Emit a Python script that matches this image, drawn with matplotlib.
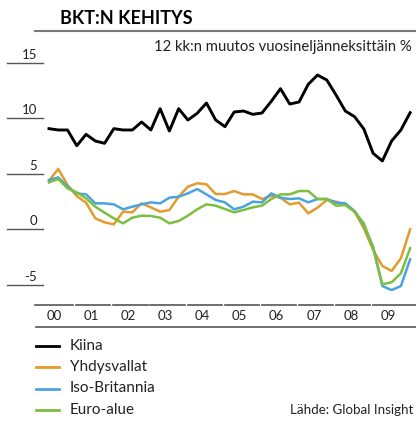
import matplotlib
matplotlib.use('Agg')
import matplotlib.pyplot as plt
import matplotlib.transforms as mtransforms
from matplotlib.lines import Line2D
import numpy as np

# vuosineljanneksittain, 12 kk:n muutos %
vuodet = ['00', '01', '02', '03', '04', '05', '06', '07', '08', '09']

kiina = [9.04, 8.92, 8.92, 7.50, 8.53, 7.93, 7.72, 9.04, 8.92, 8.92,
         9.64, 8.92, 10.84, 8.83, 10.84, 9.82, 10.42, 11.35, 9.82, 9.22,
         10.54, 10.63, 10.33, 10.45, 11.50, 12.64, 11.26, 11.44, 13.04, 13.87,
         13.42, 12.07, 10.63, 10.12, 9.01, 6.82, 6.13, 7.93, 8.92, 10.48]

yhdysvallat = [4.35, 5.41, 3.96, 2.97, 2.37, 0.96, 0.60, 0.42, 1.56, 1.50,
               2.31, 1.95, 1.56, 1.71, 2.91, 3.81, 4.12, 4.03, 3.15, 3.15,
               3.42, 3.12, 3.12, 2.70, 3.00, 2.82, 2.22, 2.37, 1.41, 1.92,
               2.61, 2.46, 2.22, 1.56, 0.06, -1.89, -3.33, -3.78, -2.64, -0.03]

iso_britannia = [4.41, 4.65, 3.81, 3.21, 3.12, 2.31, 2.31, 2.22, 1.77, 2.01,
                 2.22, 2.40, 2.31, 2.82, 2.91, 3.21, 3.60, 3.12, 2.61, 2.40,
                 1.77, 2.01, 2.46, 2.40, 3.21, 2.82, 2.70, 2.76, 2.40, 2.70,
                 2.70, 2.37, 2.31, 1.62, 0.36, -1.59, -5.14, -5.50, -5.14, -2.73]

euro_alue = [4.20, 4.50, 3.66, 3.30, 2.76, 2.01, 1.47, 0.96, 0.51, 1.02,
             1.20, 1.17, 1.02, 0.51, 0.72, 1.20, 1.77, 2.22, 2.10, 1.80,
             1.50, 1.71, 1.95, 2.10, 2.70, 3.12, 3.12, 3.42, 3.42, 2.70,
             2.70, 2.10, 2.16, 1.56, 0.51, -1.74, -4.98, -4.80, -3.99, -1.74]

y_tikit = [15, 10, 5, 0, -5]

sarjat = [
    ('Kiina', kiina, '#000000', 2.1),
    ('Yhdysvallat', yhdysvallat, '#E39B2D', 1.8),
    ('Iso-Britannia', iso_britannia, '#4AA3DF', 1.8),
    ('Euro-alue', euro_alue, '#7CBF3F', 1.8),
]

plt.rcParams['font.family'] = ['Lato', 'DejaVu Sans']

W, H = 416, 429


def fx(px):
    return px / W


def fy(py):
    return 1 - py / H


fig = plt.figure(figsize=(W / 100, H / 100), dpi=100)
ax = fig.add_axes([0, fy(300), 1, (300 - 40) / H])
ax.axis('off')

# kulmakerroin: 1 neljannes = 9.26 px, ensimmainen piste x=49 px
def q_px(px):
    return (px - 49) / 9.26


q = np.arange(len(kiina))
for nimi, arvot, vari, lw in sarjat:
    ax.plot(q, arvot, color=vari, lw=lw, clip_on=False)

ax.set_xlim(q_px(0), q_px(W))
ax.set_ylim((229 - 300) / 11.1, (229 - 40) / 11.1)

# y-akselin viivat ja luvut
trans_y = mtransforms.blended_transform_factory(fig.transFigure, ax.transData)
for v in y_tikit:
    ax.plot([fx(7), fx(43)], [v, v], transform=trans_y, color='#555555', lw=1.0, clip_on=False)
    ax.text(fx(37), v + 0.32, str(v), transform=trans_y, ha='right', va='baseline',
            fontsize=9.5, color='#222222')

# x-akseli: vuosijanat
trans_x = mtransforms.blended_transform_factory(ax.transData, fig.transFigure)
for k, lab in enumerate(vuodet):
    x0 = -1.2 + 4 * k + 0.16
    x1 = 2.8 + 4 * k - 0.16
    if k == 0:
        x0 = q_px(35)
    if k == len(vuodet) - 1:
        x1 = q_px(W)
    ax.plot([x0, x1], [fy(305), fy(305)], transform=trans_x, color='#555555', lw=1.2, clip_on=False)
    ax.text(4 * k + 0.6, fy(320.5), lab, transform=trans_x, ha='center', va='baseline',
            fontsize=9.5, color='#222222')
ax.plot([q_px(35.5), q_px(W)], [fy(326.7), fy(326.7)], transform=trans_x,
        color='#555555', lw=1.2, clip_on=False)

# otsikko
fig.text(fx(60), fy(19), 'BKT:N KEHITYS', fontweight='bold', fontsize=13, va='center')
fig.add_artist(Line2D([fx(35), 1], [fy(31), fy(31)], color='#7a7a7a', lw=1.5))
fig.text(fx(412), fy(47), '12 kk:n muutos vuosineljänneksittäin %', ha='right', va='center',
         fontsize=10.7, color='#222222')

# selite
for i, (nimi, arvot, vari, lw) in enumerate(sarjat):
    yy = 345.7 + 21.4 * i
    fig.add_artist(Line2D([fx(36), fx(59)], [fy(yy), fy(yy)], color=vari, lw=2))
    fig.text(fx(70), fy(yy), nimi, va='center', fontsize=11, color='#222222')

fig.text(fx(413), fy(410), 'Lähde: Global Insight', ha='right', va='center',
         fontsize=9.6, color='#222222')

fig.savefig('out.png', dpi=100)
